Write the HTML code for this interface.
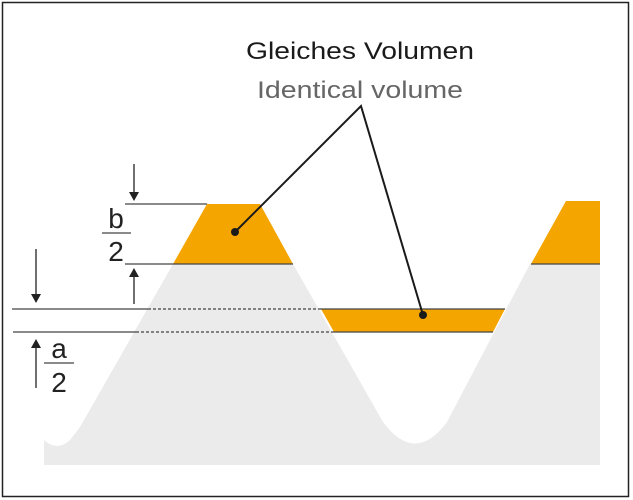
<!DOCTYPE html>
<html><head><meta charset="utf-8"><style>html,body{margin:0;padding:0;background:#fff}svg{display:block}</style></head>
<body>
<svg width="633" height="500" viewBox="0 0 633 500" xmlns="http://www.w3.org/2000/svg" font-family="Liberation Sans, sans-serif">
<rect x="2.5" y="2.5" width="626" height="494" fill="#fff" stroke="#222" stroke-width="1.5"/>
<path d="M44,440 Q57,452 70,440 L80,427 L173,264 L293,264 L383,422 Q415,465 447,422 L530,264 L600,264 L600,465 L44,465 Z" fill="#ebebeb"/>
<polygon points="207,204 260,204 293,264 173,264" fill="#f5a500"/>
<polygon points="321,309 505,309 493,332 334,332" fill="#f5a500"/>
<polygon points="566,201 600,201 600,264 531,264" fill="#f5a500"/>
<g stroke="#444" stroke-width="1.3" fill="none">
<line x1="125" y1="204" x2="207" y2="204"/>
<line x1="125" y1="264" x2="293" y2="264"/>
<line x1="531" y1="264" x2="600" y2="264"/>
<line x1="12" y1="309" x2="148" y2="309"/>
<line x1="148" y1="309" x2="321" y2="309" stroke-dasharray="3,2"/>
<line x1="321" y1="309" x2="505" y2="309"/>
<line x1="13" y1="332" x2="136" y2="332"/>
<line x1="136" y1="332" x2="334" y2="332" stroke-dasharray="3,2"/>
<line x1="334" y1="332" x2="493" y2="332"/>
</g>
<g stroke="#222" stroke-width="1.3">
<line x1="134" y1="164" x2="134" y2="193"/>
<line x1="134" y1="304" x2="134" y2="276"/>
<line x1="36" y1="249" x2="36" y2="294"/>
<line x1="36" y1="388" x2="36" y2="348"/>
</g>
<g fill="#222">
<polygon points="129,192 139,192 134,201"/>
<polygon points="129,277 139,277 134,268"/>
<polygon points="31,294 41,294 36,303"/>
<polygon points="31,348 41,348 36,339"/>
</g>
<g fill="#222" font-size="28">
<text x="116" y="228" text-anchor="middle">b</text>
<line x1="102" y1="233" x2="131" y2="233" stroke="#444" stroke-width="1.2"/>
<text x="116" y="261" text-anchor="middle">2</text>
<text x="59" y="358" text-anchor="middle">a</text>
<line x1="44" y1="363" x2="74" y2="363" stroke="#444" stroke-width="1.2"/>
<text x="59" y="392" text-anchor="middle">2</text>
</g>
<g stroke="#1a1a1a" stroke-width="2" fill="none">
<polyline points="235,232 361,106 423,315"/>
</g>
<circle cx="235" cy="232" r="4" fill="#1a1a1a"/>
<circle cx="423" cy="315" r="4" fill="#1a1a1a"/>
<text x="246" y="59" font-size="24" fill="#1a1a1a" textLength="228" lengthAdjust="spacingAndGlyphs">Gleiches Volumen</text>
<text x="257" y="98" font-size="24" fill="#666" textLength="206" lengthAdjust="spacingAndGlyphs">Identical volume</text>
</svg>
</body></html>
